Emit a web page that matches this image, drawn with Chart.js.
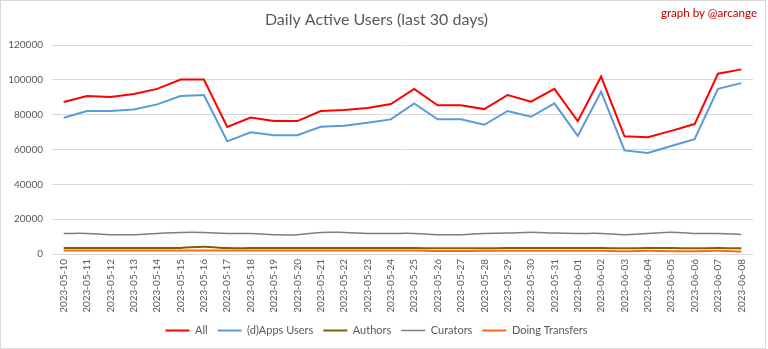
<!DOCTYPE html>
<html>
<head>
<meta charset="utf-8">
<script src="https://cdn.jsdelivr.net/npm/chart.js@4.4.0/dist/chart.umd.min.js"></script>
<style>
    html, body { margin: 0; padding: 0; background: #ffffff; }
    #wrap { position: relative; width: 768px; height: 349px; }
    #frame {
        position: absolute; left: 0; top: 0; width: 766px; height: 349px;
        box-sizing: border-box; border: 1px solid #d9d9d9; pointer-events: none;
    }
    #credit {
        position: absolute; right: 11px; top: 6px;
        font: 11.6px Lato, sans-serif; line-height: 13px; color: #c00000;
    }
</style>
</head>
<body>
<div id="wrap">
    <canvas id="dauChart" width="768" height="349"></canvas>
    <div id="frame"></div>
    <div id="credit">graph by @arcange</div>
</div>
<script>
// Days covered by the chart
const days = [
    '2023-05-10', '2023-05-11', '2023-05-12', '2023-05-13', '2023-05-14',
    '2023-05-15', '2023-05-16', '2023-05-17', '2023-05-18', '2023-05-19',
    '2023-05-20', '2023-05-21', '2023-05-22', '2023-05-23', '2023-05-24',
    '2023-05-25', '2023-05-26', '2023-05-27', '2023-05-28', '2023-05-29',
    '2023-05-30', '2023-05-31', '2023-06-01', '2023-06-02', '2023-06-03',
    '2023-06-04', '2023-06-05', '2023-06-06', '2023-06-07', '2023-06-08'
];

// Active users per day, by category
const allUsers = [
    87300, 90700, 90200, 91900, 94800, 100200, 100200, 73000, 78400, 76300,
    76300, 82100, 82700, 83800, 86100, 94800, 85400, 85400, 83200, 91300,
    87500, 94800, 76300, 101900, 67600, 67000, 70700, 74600, 103500, 106000
];
const appsUsers = [
    78200, 82100, 82100, 83000, 85900, 90700, 91300, 64700, 69900, 68200,
    68200, 73000, 73600, 75300, 77300, 86500, 77300, 77300, 74200, 82100,
    78800, 86500, 67800, 93200, 59500, 58000, 62000, 65900, 94800, 98100
];
const authors = [
    3400, 3400, 3400, 3400, 3400, 3500, 4100, 3400, 3400, 3400,
    3400, 3400, 3400, 3400, 3400, 3400, 3300, 3300, 3300, 3400,
    3400, 3400, 3400, 3400, 3300, 3400, 3400, 3300, 3400, 3300
];
const curators = [
    11800, 11800, 11100, 11100, 11800, 12400, 12400, 11800, 11800, 11100,
    11100, 12400, 12400, 11800, 11800, 11800, 11100, 11100, 11800, 12000,
    12500, 12000, 11800, 11800, 11100, 11800, 12500, 11800, 11800, 11200
];
const transfers = [
    2000, 2000, 2000, 2000, 2000, 2000, 2000, 2000, 2000, 2000,
    2000, 2000, 2000, 2000, 2000, 2000, 1700, 1700, 1800, 1900,
    1900, 1900, 1900, 1900, 1600, 1800, 1600, 1600, 1800, 1500
];

// Y axis ticks
const yMax = 120000;
const yStep = 20000;

const textGrey = '#595959';
const gridGrey = '#d9d9d9';

function series(label, data, color, width, tension, order) {
    return {
        label: label,
        data: data,
        borderColor: color,
        backgroundColor: color,
        borderWidth: width,
        pointRadius: 0,
        tension: tension,
        order: order
    };
}

const ctx = document.getElementById('dauChart').getContext('2d');
new Chart(ctx, {
    type: 'line',
    data: {
        labels: days,
        datasets: [
            series('All', allUsers, '#ff0000', 2, 0, 5),
            series('(d)Apps Users', appsUsers, '#5b9bd5', 2, 0, 4),
            series('Authors', authors, '#7f6000', 2, 0.4, 3),
            series('Curators', curators, '#7f7f7f', 1.5, 0.4, 2),
            series('Doing Transfers', transfers, '#ff6a0d', 2, 0.4, 1)
        ]
    },
    options: {
        responsive: false,
        animation: false,
        layout: { padding: { left: 0, right: 15, top: 0, bottom: 3 } },
        plugins: {
            title: {
                display: true,
                text: 'Daily Active Users (last 30 days)',
                color: textGrey,
                font: { family: 'Lato', size: 16, weight: 'normal', lineHeight: 1.2 },
                padding: { top: 10, bottom: 15.8 }
            },
            legend: {
                position: 'bottom',
                labels: {
                    usePointStyle: true,
                    pointStyle: 'line',
                    pointStyleWidth: 24,
                    padding: 10,
                    color: textGrey,
                    font: { family: 'Lato', size: 11 },
                    sort: (a, b) => a.datasetIndex - b.datasetIndex
                }
            },
            tooltip: { enabled: false }
        },
        scales: {
            x: {
                offset: true,
                grid: { display: false, drawTicks: false },
                border: { display: false },
                ticks: {
                    autoSkip: false,
                    minRotation: 90,
                    maxRotation: 90,
                    padding: 5,
                    color: textGrey,
                    font: { family: 'Lato', size: 10 }
                },
                afterFit: (scale) => { scale.height = 61; }
            },
            y: {
                min: 0,
                max: yMax,
                grid: { color: gridGrey, lineWidth: 1, drawTicks: false },
                border: { display: false },
                ticks: {
                    stepSize: yStep,
                    padding: 9,
                    color: textGrey,
                    font: { family: 'Lato', size: 10 },
                    callback: (v) => String(v)
                },
                afterFit: (scale) => { scale.width = 52; }
            }
        }
    }
});
</script>
</body>
</html>
